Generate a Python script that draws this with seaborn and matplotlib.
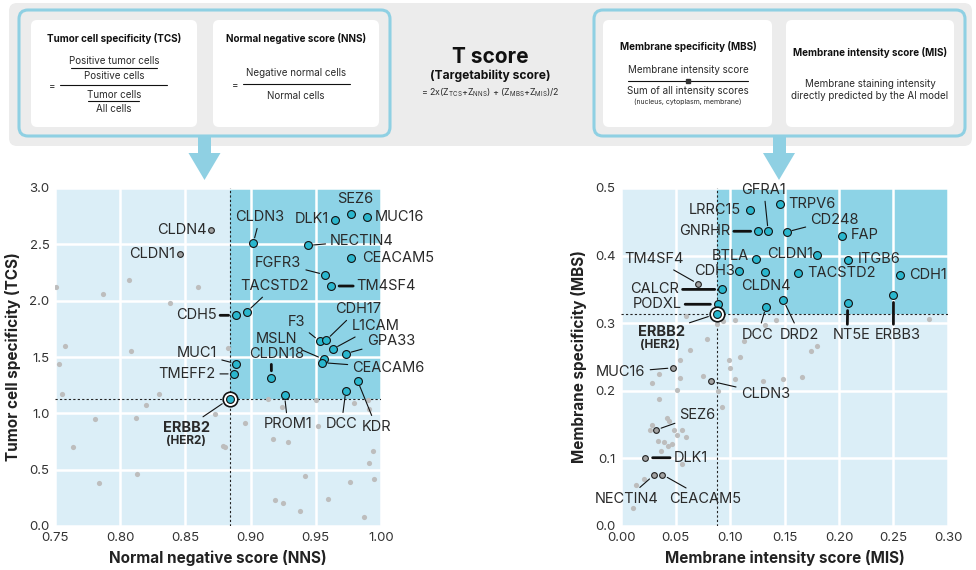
import matplotlib
matplotlib.use('Agg')
import matplotlib.pyplot as plt
from matplotlib.patches import FancyBboxPatch, Rectangle, Polygon
import seaborn as sns
import numpy as np
import pandas as pd

# ---------------- data: left panel (NNS vs TCS) ----------------
nns_genes = ['SEZ6', 'MUC16', 'DLK1', 'CLDN3', 'NECTIN4', 'CEACAM5', 'FGFR3', 'TM4SF4',
             'TACSTD2', 'CDH5', 'F3', 'CDH17', 'L1CAM', 'GPA33', 'MSLN', 'CEACAM6',
             'MUC1', 'TMEFF2', 'CLDN18', 'KDR', 'DCC', 'PROM1']
nns_x = [0.977, 0.989, 0.965, 0.902, 0.944, 0.977, 0.957, 0.962,
         0.897, 0.889, 0.953, 0.958, 0.963, 0.973, 0.956, 0.955,
         0.889, 0.887, 0.916, 0.982, 0.973, 0.926]
tcs_y = [2.77, 2.74, 2.72, 2.51, 2.49, 2.38, 2.23, 2.13,
         1.90, 1.87, 1.64, 1.65, 1.57, 1.53, 1.48, 1.45,
         1.44, 1.35, 1.31, 1.29, 1.20, 1.16]
nns_gray_genes = ['CLDN4', 'CLDN1']
nns_gray_x = [0.870, 0.846]
tcs_gray_y = [2.63, 2.41]
erbb2_nns, erbb2_tcs = 0.884, 1.13
nns_bg_x = [0.751, 0.753, 0.758, 0.755, 0.764, 0.781, 0.784, 0.787, 0.807, 0.808,
            0.812, 0.813, 0.820, 0.830, 0.838, 0.860, 0.883, 0.873, 0.879, 0.880,
            0.896, 0.913, 0.917, 0.924, 0.929, 0.919, 0.925, 0.938, 0.942, 0.950,
            0.952, 0.959, 0.976, 0.979, 0.990, 0.991, 0.994, 0.991, 0.995, 0.987]
tcs_bg_y = [2.12, 1.44, 1.60, 1.17, 0.70, 0.95, 0.38, 2.06, 2.18, 1.55,
            0.96, 0.46, 1.07, 1.17, 1.98, 2.12, 1.58, 0.99, 0.71, 0.70,
            0.91, 1.13, 0.77, 1.06, 0.75, 0.23, 0.20, 0.13, 0.44, 1.12,
            0.89, 0.24, 0.39, 1.09, 1.12, 1.04, 0.67, 0.56, 0.42, 0.08]

# ---------------- data: right panel (MIS vs MBS) ----------------
mis_genes = ['GFRA1', 'GNRHR', 'LRRC15', 'TRPV6', 'CD248', 'FAP', 'BTLA', 'CLDN1',
             'ITGB6', 'CDH3', 'CLDN4', 'TACSTD2', 'CDH1', 'CALCR', 'PODXL', 'DCC',
             'DRD2', 'NT5E', 'ERBB3']
mis_x = [0.135, 0.126, 0.118, 0.146, 0.152, 0.203, 0.124, 0.180,
         0.208, 0.108, 0.132, 0.162, 0.256, 0.093, 0.089, 0.133,
         0.149, 0.208, 0.250]
mbs_y = [0.436, 0.436, 0.468, 0.476, 0.435, 0.429, 0.395, 0.401,
         0.394, 0.377, 0.376, 0.374, 0.372, 0.350, 0.328, 0.324,
         0.334, 0.330, 0.342]
mis_gray_genes = ['TM4SF4', 'MUC16', 'CLDN3', 'SEZ6', 'DLK1', 'NECTIN4', 'CEACAM5']
mis_gray_x = [0.071, 0.048, 0.083, 0.032, 0.022, 0.030, 0.038]
mbs_gray_y = [0.358, 0.234, 0.214, 0.142, 0.101, 0.075, 0.076]
erbb2_mis, erbb2_mbs = 0.088, 0.314
mis_bg_x = [0.060, 0.088, 0.094, 0.105, 0.132, 0.142, 0.283, 0.079, 0.063, 0.113,
            0.099, 0.109, 0.100, 0.054, 0.035, 0.028, 0.054, 0.075, 0.105, 0.130,
            0.149, 0.166, 0.174, 0.180, 0.051, 0.035, 0.089, 0.093, 0.028, 0.042,
            0.044, 0.027, 0.049, 0.056, 0.051, 0.060, 0.034, 0.039, 0.043, 0.047,
            0.037, 0.056, 0.021, 0.014, 0.011]
mbs_bg_y = [0.311, 0.299, 0.303, 0.304, 0.298, 0.304, 0.306, 0.276, 0.261, 0.274,
            0.245, 0.250, 0.234, 0.246, 0.225, 0.211, 0.219, 0.222, 0.218, 0.215,
            0.217, 0.220, 0.259, 0.267, 0.201, 0.188, 0.200, 0.176, 0.149, 0.160,
            0.156, 0.142, 0.142, 0.142, 0.134, 0.132, 0.126, 0.124, 0.119, 0.122,
            0.111, 0.092, 0.070, 0.060, 0.027]

# label placement: (dx pt, dy pt, ha, leader, relpos)
nns_labels = {
    'SEZ6': (3, 10.5, 'center', None), 'MUC16': (6, 0, 'left', None),
    'DLK1': (-4.5, 0.5, 'right', None), 'CLDN3': (5, 19, 'center', 'thin'),
    'NECTIN4': (16, 3.4, 'left', 'thin'), 'CEACAM5': (8, 0, 'left', None),
    'FGFR3': (-17, 8.6, 'right', 'thin'), 'TM4SF4': (18, 0, 'left', 'thick'),
    'TACSTD2': (20, 18.7, 'center', 'thin'), 'CDH5': (-14, 0, 'right', 'thick'),
    'F3': (-17, 13.7, 'center', 'thin'), 'CDH17': (23, 22.3, 'center', 'thin'),
    'L1CAM': (13.4, 16.6, 'left', 'thin'), 'GPA33': (15, 8.9, 'left', 'thin'),
    'MSLN': (-33.6, 14.4, 'center', 'thin'), 'CEACAM6': (21.6, -3.6, 'left', 'thin'),
    'MUC1': (-13.7, 7.4, 'right', 'thin'), 'TMEFF2': (-13.2, 0, 'right', 'thin'),
    'CLDN18': (3.4, 17.5, 'center', 'thick', (0.41, 0.5)), 'KDR': (2.9, -33.4, 'left', 'thin'),
    'DCC': (-3.1, -24, 'center', 'thin'), 'PROM1': (2.4, -20.9, 'center', 'thin'),
    'CLDN4': (-3.4, 0, 'right', None), 'CLDN1': (-3.6, 0, 'right', None),
}
mis_labels = {
    'GFRA1': (-3.1, 30, 'center', 'thin'), 'GNRHR': (-20, 0, 'right', 'thick'),
    'LRRC15': (-6.5, 0, 'right', None), 'TRPV6': (5.5, 0.5, 'left', None),
    'CD248': (17, 8.9, 'left', 'thin'), 'FAP': (6.2, 1, 'left', None),
    'BTLA': (-5, 2.2, 'right', None), 'CLDN1': (-3.1, 1, 'right', None),
    'ITGB6': (7, 0.5, 'left', None), 'CDH3': (-2.4, 0, 'right', None),
    'CLDN4': (1, -10, 'center', None), 'TACSTD2': (7, 0, 'left', None),
    'CDH1': (6.2, 0, 'left', None), 'CALCR': (-31, 0, 'right', 'thick'),
    'PODXL': (-26, 0, 'right', 'thick'), 'DCC': (-5.8, -19.9, 'center', 'thin'),
    'DRD2': (11.8, -24.7, 'center', 'thin'),
    'NT5E': (2.6, -22.8, 'center', 'thick', (0.39, 0.5)),
    'ERBB3': (2.9, -28.6, 'center', 'thick', (0.41, 0.5)),
    'TM4SF4': (-31.7, 18, 'center', 'thin'), 'MUC16': (-20, -3.1, 'right', 'thin'),
    'CLDN3': (21, -8.9, 'left', 'thin'), 'SEZ6': (17, 10.6, 'left', 'thin'),
    'DLK1': (20.4, 0, 'left', 'thick'), 'NECTIN4': (-19.2, -16.8, 'center', 'thin'),
    'CEACAM5': (31, -17.5, 'center', 'thin'),
}

LIGHT = '#dbeef7'
DARK = '#8dd3e6'
TEAL = '#2ab7ce'
FRAME = '#8fd0e3'
TXT = '#2a2a2a'
LABEL_FS = 10.5

sns.set_style('white')
plt.rcParams['font.family'] = ['Inter', 'DejaVu Sans']
plt.rcParams['mathtext.fontset'] = 'custom'
plt.rcParams['mathtext.rm'] = 'Inter'


def draw_labels(ax, xs, ys, names, spec):
    for name, x, y in zip(names, xs, ys):
        if name not in spec:
            continue
        s = spec[name]
        dx, dy, ha, line = s[:4]
        kw = dict(xy=(x, y), xytext=(dx, dy), textcoords='offset points', ha=ha,
                  va='center', fontsize=LABEL_FS, color=TXT, zorder=6)
        if line:
            relpos = s[4] if len(s) > 4 else (0.5, 0.5)
            if line == 'thick':
                ap = dict(arrowstyle='-', lw=2.0, color='#111', shrinkA=0, shrinkB=5.5, relpos=relpos)
            else:
                ap = dict(arrowstyle='-', lw=0.8, color='#111', shrinkA=1, shrinkB=4, relpos=relpos)
            kw['arrowprops'] = ap
        ax.annotate(name, **kw)


def scatter_panel(ax, bg, gray, target, erbb2, xlim, ylim, spec, ticks):
    ax.set_facecolor(LIGHT)
    ax.set_xlim(*xlim)
    ax.set_ylim(*ylim)
    ax.add_patch(Rectangle((erbb2[0], erbb2[1]), xlim[1] - erbb2[0], ylim[1] - erbb2[1],
                           facecolor=DARK, edgecolor='none', zorder=0.3))
    ax.set_axisbelow(True)
    ax.grid(True, color='white', lw=1.8)
    for sp in ax.spines.values():
        sp.set_visible(False)
    ax.axvline(erbb2[0], color='#222', lw=0.8, ls=(0, (2, 2)), zorder=1)
    ax.axhline(erbb2[1], color='#222', lw=0.8, ls=(0, (2, 2)), zorder=1)

    sns.scatterplot(x=bg[0], y=bg[1], color='#bdbdbd', s=14, linewidth=0,
                    ax=ax, legend=False, zorder=2)
    sns.scatterplot(x=gray[1], y=gray[2], color='#a3a3a3', s=17, edgecolor='#222',
                    linewidth=0.8, ax=ax, legend=False, zorder=3)
    sns.scatterplot(x=target[1], y=target[2], color=TEAL, s=32, edgecolor='#111',
                    linewidth=0.8, ax=ax, legend=False, zorder=4)
    # ERBB2 reference marker
    ax.scatter([erbb2[0]], [erbb2[1]], s=110, color='white', edgecolor='#111', linewidth=1.2, zorder=5)
    ax.scatter([erbb2[0]], [erbb2[1]], s=32, color=TEAL, edgecolor='#111', linewidth=0.8, zorder=5)

    draw_labels(ax, target[1], target[2], target[0], spec)
    draw_labels(ax, gray[1], gray[2], gray[0], spec)

    ax.set_xticks(ticks[0])
    ax.set_yticks(ticks[1])
    ax.set_xticklabels(ticks[2])
    ax.set_yticklabels(ticks[3])
    ax.tick_params(length=0, pad=4, labelsize=9.5, labelcolor='#333')


fig = plt.figure(figsize=(9.76, 5.70), dpi=100)

# ---------------- header ----------------
ax0 = fig.add_axes([0, 0, 1, 1])
ax0.set_xlim(0, 976)
ax0.set_ylim(570, 0)
ax0.axis('off')

ax0.add_patch(FancyBboxPatch((9, 3), 963, 143, boxstyle='round,pad=0,rounding_size=8',
                             fc='#ececec', ec='none'))
for x0 in (19, 594):
    ax0.add_patch(FancyBboxPatch((x0, 10), 371, 126, boxstyle='round,pad=0,rounding_size=9',
                                 fc='none', ec=FRAME, lw=2.2))
for x0, w in ((31, 166), (213, 166), (603, 169), (786, 168)):
    ax0.add_patch(FancyBboxPatch((x0, 20), w, 107, boxstyle='round,pad=0,rounding_size=6',
                                 fc='white', ec='none'))
for cx in (204.5, 779):
    ax0.add_patch(Rectangle((cx - 6.5, 136), 13, 18, fc=FRAME, ec='none'))
    ax0.add_patch(Polygon([(cx - 16, 153), (cx + 16, 153), (cx, 180)], closed=True, fc=FRAME, ec='none'))

hfs = 7.1
# TCS box
ax0.text(114, 39, 'Tumor cell specificity (TCS)', ha='center', va='center', fontsize=hfs, weight='bold', color='#111')
ax0.text(52, 86, '=', ha='center', va='center', fontsize=hfs, color=TXT)
ax0.text(114, 61, 'Positive tumor cells', ha='center', va='center', fontsize=hfs, color=TXT)
ax0.plot([71, 157], [68, 68], color='#111', lw=0.8)
ax0.text(114, 76, 'Positive cells', ha='center', va='center', fontsize=hfs, color=TXT)
ax0.plot([60, 167], [85, 85], color='#111', lw=0.8)
ax0.text(114, 95, 'Tumor cells', ha='center', va='center', fontsize=hfs, color=TXT)
ax0.plot([88, 139], [101, 101], color='#111', lw=0.8)
ax0.text(114, 109, 'All cells', ha='center', va='center', fontsize=hfs, color=TXT)
# NNS box
ax0.text(296, 39, 'Normal negative score (NNS)', ha='center', va='center', fontsize=hfs, weight='bold', color='#111')
ax0.text(235, 85, '=', ha='center', va='center', fontsize=hfs, color=TXT)
ax0.text(296, 73, 'Negative normal cells', ha='center', va='center', fontsize=hfs, color=TXT)
ax0.plot([243, 350], [84, 84], color='#111', lw=0.8)
ax0.text(296, 96, 'Normal cells', ha='center', va='center', fontsize=hfs, color=TXT)
# T score
ax0.text(490, 57, 'T score', ha='center', va='center', fontsize=15, weight='bold', color='#111')
ax0.text(490, 76, '(Targetability score)', ha='center', va='center', fontsize=8.7, weight='bold', color='#111')
ax0.text(490, 93, r'= 2x(Z$_{\mathregular{TCS}}$+Z$_{\mathregular{NNS}}$) + (Z$_{\mathregular{MBS}}$+Z$_{\mathregular{MIS}}$)/2',
         ha='center', va='center', fontsize=6.4, color=TXT)
# MBS box
ax0.text(688, 47, 'Membrane specificity (MBS)', ha='center', va='center', fontsize=hfs, weight='bold', color='#111')
ax0.text(688, 70, 'Membrane intensity score', ha='center', va='center', fontsize=hfs, color=TXT)
ax0.plot([628, 748], [81, 81], color='#111', lw=0.8)
ax0.plot([688], [81], marker='s', ms=2.2, color='#333')
ax0.text(688, 91, 'Sum of all intensity scores', ha='center', va='center', fontsize=hfs, color=TXT)
ax0.text(688, 102, '(nucleus, cytoplasm, membrane)', ha='center', va='center', fontsize=5, color=TXT)
# MIS box
ax0.text(870, 52, 'Membrane intensity score (MIS)', ha='center', va='center', fontsize=hfs, weight='bold', color='#111')
ax0.text(870, 84, 'Membrane staining intensity', ha='center', va='center', fontsize=hfs, color=TXT)
ax0.text(870, 96, 'directly predicted by the AI model', ha='center', va='center', fontsize=hfs, color=TXT)

# ---------------- scatter panels ----------------
axL = fig.add_axes([55 / 976, 44 / 570, 326 / 976, 338 / 570])
scatter_panel(axL, (nns_bg_x, tcs_bg_y), (nns_gray_genes, nns_gray_x, tcs_gray_y),
              (nns_genes, nns_x, tcs_y), (erbb2_nns, erbb2_tcs), (0.75, 1.0), (0, 3.0), nns_labels,
              (np.arange(0.75, 1.001, 0.05), np.arange(0, 3.01, 0.5),
               ['0.75', '0.80', '0.85', '0.90', '0.95', '1.00'],
               ['0.0', '0.5', '1.0', '1.5', '2.0', '2.5', '3.0']))
axL.annotate('ERBB2', xy=(erbb2_nns, erbb2_tcs), xytext=(-31, -21), textcoords='offset points',
             ha='center', va='center', fontsize=LABEL_FS, weight='bold', color=TXT, zorder=6,
             arrowprops=dict(arrowstyle='-', lw=0.8, color='#111', shrinkA=1, shrinkB=6.5))
axL.annotate('(HER2)', xy=(erbb2_nns, erbb2_tcs), xytext=(-31.5, -30.7), textcoords='offset points',
             ha='center', va='center', fontsize=8.5, weight='bold', color=TXT, zorder=6)
axL.set_xlabel('Normal negative score (NNS)', fontsize=11, weight='bold', color='#222', labelpad=5)
axL.set_ylabel('Tumor cell specificity (TCS)', fontsize=11, weight='bold', color='#222', labelpad=6)

axR = fig.add_axes([621 / 976, 44 / 570, 327 / 976, 338 / 570])
scatter_panel(axR, (mis_bg_x, mbs_bg_y), (mis_gray_genes, mis_gray_x, mbs_gray_y),
              (mis_genes, mis_x, mbs_y), (erbb2_mis, erbb2_mbs), (0, 0.30), (0, 0.5), mis_labels,
              (np.arange(0, 0.301, 0.05), np.arange(0, 0.501, 0.1),
               ['0.00', '0.05', '0.10', '0.15', '0.20', '0.25', '0.30'],
               ['0.0', '0.1', '0.2', '0.3', '0.4', '0.5']))
axR.annotate('ERBB2', xy=(erbb2_mis, erbb2_mbs), xytext=(-40, -13.2), textcoords='offset points',
             ha='center', va='center', fontsize=LABEL_FS, weight='bold', color=TXT, zorder=6,
             arrowprops=dict(arrowstyle='-', lw=0.8, color='#111', shrinkA=1, shrinkB=6.5))
axR.annotate('(HER2)', xy=(erbb2_mis, erbb2_mbs), xytext=(-40.8, -22.8), textcoords='offset points',
             ha='center', va='center', fontsize=8.5, weight='bold', color=TXT, zorder=6)
axR.set_xlabel('Membrane intensity score (MIS)', fontsize=11, weight='bold', color='#222', labelpad=5)
axR.set_ylabel('Membrane specificity (MBS)', fontsize=11, weight='bold', color='#222', labelpad=6)

fig.savefig('out.png', dpi=100)
